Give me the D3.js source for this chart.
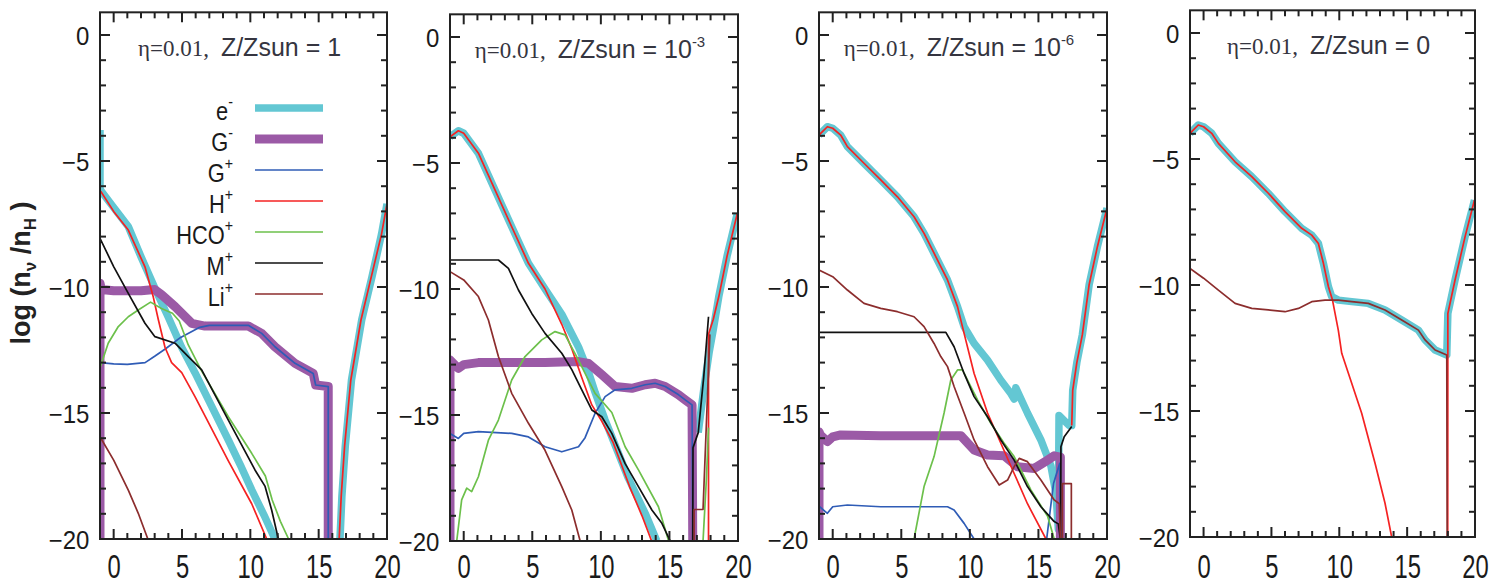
<!DOCTYPE html>
<html>
<head>
<meta charset="utf-8">
<script src="https://cdnjs.cloudflare.com/ajax/libs/d3/7.8.5/d3.min.js"></script>
<style>
    body { margin: 0; background: #fff; }
    svg { display: block; }
</style>
</head>
<body>
<div id="chart-area"></div>
<script>
// ---- data: log(n_v / n_H) vs x, one array per species and panel (null = gap)

// Z/Zsun = 1
var p1_e = [[-1,-3.77],[-1,-6.1],[-0.9,-6.2],[0,-6.85],[1.07,-7.6],[2,-8.8],[3.02,-10.05],[4,-11.2],[4.98,-12.4],[5.95,-13.4],[7,-14.55],[8.39,-16.07],[9.3,-17.1],[10.1,-18.05],[11,-19.05],[11.8,-20], null,
    [16.56,-20],[16.7,-18.3],[16.95,-16.3],[17.4,-13.7],[18.15,-11.3],[18.9,-9.6],[19.6,-7.9],[20,-6.7]];
var p1_Gm = [[-1,-20],[-1,-9.85],[-0.9,-10.1],[0,-10.15],[1,-10.15],[2,-10.15],[3,-10.1],[3.5,-10.3],[4.49,-10.78],[5.71,-11.44],[6.68,-11.55],[8,-11.55],[9.85,-11.55],[10.83,-11.84],[11.8,-12.37],[13.27,-13.03],[14.6,-13.43],[14.78,-13.89],[15.7,-13.95],[15.7,-20]];
var p1_Gp = [[-1,-13.0],[0,-13.05],[1,-13.07],[2.3,-13.0],[3,-12.75],[3.8,-12.45],[4.9,-12.0],[6.3,-11.6],[7,-11.52],[9.85,-11.52],[10.83,-11.84],[11.8,-12.37],[13.27,-13.03],[14.6,-13.43],[14.78,-13.89],[15.7,-13.95],[15.7,-20]];
var p1_H = [[-0.95,-6.2],[0,-7.0],[1.07,-7.74],[2.29,-9.2],[2.9,-10.4],[3.27,-11.3],[3.76,-12.4],[4.24,-13.0],[4.98,-13.4],[5.95,-14.35],[8.39,-16.9],[10.1,-18.6],[11.2,-20], null,
    [16.5,-20],[16.65,-18.3],[16.9,-16.3],[17.35,-13.7],[18.1,-11.3],[18.85,-9.6],[19.6,-7.9],[20,-6.7]];
var p1_HCO = [[-1,-13.2],[-0.4,-12.23],[0.34,-11.57],[1.07,-11.18],[1.8,-10.91],[2.7,-10.6],[3.5,-10.85],[4.3,-11.04],[4.8,-11.35],[5.46,-12.3],[6.4,-13.3],[8.39,-15.15],[10.1,-16.6],[11.1,-17.5],[11.6,-18.45],[12.2,-19.3],[12.8,-20]];
var p1_M = [[-1,-20],[-1,-8.07],[0,-9.19],[1.07,-10.25],[2.29,-11.44],[3.02,-11.97],[4.49,-12.23],[5.46,-12.76],[6.44,-13.29],[8.39,-15.28],[10.34,-17.26],[11.07,-17.9],[11.56,-18.85],[12.05,-20]];
var p1_Li = [[-1,-15.94],[0,-16.87],[1.07,-18.06],[1.8,-18.98],[2.5,-20]];

// Z/Zsun = 1e-3
var p2_e = [[-1,-3.96],[-0.39,-3.72],[0,-3.82],[1.07,-4.61],[2.28,-6.07],[3.5,-7.53],[4.72,-8.98],[5.93,-10.0],[7.15,-11.0],[8.37,-12.3],[9.1,-13.3],[9.58,-14.1],[10.31,-15.2],[12,-17.5],[13.23,-18.9],[14.08,-20], null,
    [17.1,-15.7],[17.5,-14.0],[17.9,-12.5],[18.2,-11.6],[18.6,-10.3],[19.2,-8.7],[19.95,-7.0]];
var p2_Gm = [[-1,-20],[-1,-12.82],[-0.9,-12.88],[-0.39,-13.15],[0,-13.0],[1.07,-12.92],[3.5,-12.92],[5.93,-12.92],[8.37,-12.88],[9.1,-12.95],[10.07,-13.4],[11.04,-13.87],[12.26,-13.94],[13.23,-13.8],[13.96,-13.74],[14.69,-13.87],[15.67,-14.2],[16.15,-14.4],[16.65,-14.6],[16.7,-20]];
var p2_Gp = [[-1,-15.73],[-0.39,-15.93],[0,-15.73],[1.07,-15.66],[3.5,-15.73],[4.72,-15.87],[5.93,-16.26],[7.15,-16.46],[8.37,-16.26],[8.85,-15.9],[9.58,-14.93],[10.31,-14.27],[11.04,-14.0],[12.26,-13.94],[13.23,-13.8],[13.96,-13.74],[14.69,-13.87],[15.67,-14.2],[16.15,-14.4],[16.65,-14.6],[16.7,-20]];
var p2_H = [[-1,-3.96],[-0.39,-3.72],[0,-3.82],[1.07,-4.61],[2.28,-6.07],[3.5,-7.53],[4.72,-8.98],[5.93,-10.0],[7.15,-11.4],[7.9,-12.4],[8.6,-13.5],[9.34,-14.6],[10.07,-15.25],[10.9,-16.1],[12.1,-17.85],[13.0,-19.0],[13.7,-20], null,
    [17.85,-20],[17.85,-11.8],[18.2,-11.2],[18.6,-10.3],[19.2,-8.7],[19.95,-7.0]];
var p2_HCO = [[-0.51,-20],[-0.15,-18.37],[0.22,-17.9],[0.58,-18.04],[1.07,-17.45],[1.8,-16.0],[2.53,-15.2],[3.5,-13.61],[4.47,-12.68],[5.69,-12.02],[6.66,-11.69],[7.39,-11.82],[8.37,-12.82],[9.58,-14.14],[10.8,-14.9],[11.77,-16.26],[12.75,-17.19],[14.2,-18.64],[14.94,-20], null,
    [17.45,-20],[17.7,-17.5],[17.85,-15.5]];
var p2_M = [[-1,-20],[-1,-8.85],[2.53,-8.85],[3.26,-9.18],[3.99,-10.04],[4.96,-10.97],[5.93,-11.76],[7.15,-12.55],[7.88,-13.2],[8.61,-14.0],[9.34,-14.8],[10.07,-15.07],[10.8,-15.73],[11.77,-16.93],[12.75,-17.85],[13.72,-18.77],[14.45,-19.3],[15.06,-20], null,
    [16.7,-20],[16.72,-16.3],[17.1,-15.7],[17.5,-13.5],[17.85,-11.1]];
var p2_Li = [[-1,-9.31],[0,-9.64],[1.07,-10.3],[1.8,-11.23],[2.53,-12.68],[3.5,-14.14],[4.72,-15.33],[5.93,-16.4],[7.15,-17.84],[7.88,-18.77],[8.49,-20], null,
    [16.8,-20],[16.8,-18.75],[17.45,-18.75],[17.95,-11.8]];

// Z/Zsun = 1e-6
var p3_e = [[-1,-3.97],[-0.39,-3.64],[0,-3.7],[0.58,-3.97],[1.07,-4.43],[2.28,-5.09],[3.5,-5.75],[4.72,-6.42],[5.93,-7.21],[6.66,-7.87],[7.39,-8.66],[8.37,-9.72],[9.1,-10.78],[9.58,-11.57],[10.31,-12.24],[11.29,-12.9],[12.26,-13.7],[12.99,-14.23],[13.23,-14.45],[13.35,-14.0],[14.2,-15.0],[15.18,-16.07],[15.91,-17.1],[16.28,-18.2],[16.45,-19.6],[16.5,-15.1],[17.25,-15.5],[17.43,-15.5],[17.5,-14.1],[17.8,-13.0],[18.2,-11.9],[18.7,-9.9],[19.3,-8.4],[20,-6.87]];
var p3_Gm = [[-1,-20],[-1,-15.74],[-0.9,-15.87],[-0.39,-16.13],[0,-15.95],[0.58,-15.87],[3.5,-15.9],[5.93,-15.9],[9.34,-15.9],[10.31,-16.47],[11.29,-16.67],[12.5,-16.7],[13.48,-17.13],[14.7,-17.2],[15.67,-16.87],[16.15,-16.7],[16.6,-16.75],[16.6,-20]];
var p3_Gp = [[-1,-18.7],[-0.39,-18.98],[0,-18.72],[1.07,-18.65],[3.5,-18.72],[5.93,-18.72],[8.37,-18.72],[8.85,-18.85],[9.58,-19.38],[10.31,-20], null,
    [15.6,-20],[16.1,-17.8],[16.55,-17.0],[16.6,-20]];
var p3_H = [[-1,-3.97],[-0.39,-3.64],[0,-3.7],[0.58,-3.97],[1.07,-4.43],[2.28,-5.09],[3.5,-5.75],[4.72,-6.42],[5.93,-7.21],[6.66,-7.87],[7.39,-8.66],[8.37,-9.72],[9.1,-10.78],[9.58,-11.84],[10.31,-13.43],[11.29,-15.0],[12.26,-16.2],[13.23,-17.4],[14.2,-18.6],[15.55,-20], null,
    [17.43,-15.5],[17.5,-14.1],[17.8,-13.0],[18.2,-11.9],[18.7,-9.9],[19.3,-8.4],[20,-6.87]];
var p3_HCO = [[5.93,-20],[6.66,-17.92],[7.39,-16.73],[8.12,-15.0],[8.61,-13.69],[9.1,-13.29],[9.46,-13.29],[10.07,-13.95],[10.56,-14.48],[11.53,-15.41],[12.5,-16.2],[13.23,-16.73],[14.45,-18.05],[15.67,-19.1],[16.15,-20]];
var p3_M = [[-1,-20],[-1,-11.8],[8.25,-11.8],[8.85,-12.37],[9.58,-13.43],[10.31,-14.35],[11.29,-15.15],[12.26,-16.07],[13.23,-16.87],[14.2,-17.92],[15.18,-18.72],[16.15,-19.31],[16.45,-19.4],[16.6,-20], null,
    [16.62,-20],[16.64,-16.34],[16.88,-15.94],[17.43,-15.54]];
var p3_Li = [[-1,-9.33],[0,-9.59],[1.07,-10.12],[2.28,-10.65],[3.5,-10.85],[4.72,-10.98],[5.93,-11.18],[6.66,-11.57],[7.39,-12.24],[7.88,-12.76],[8.37,-13.16],[8.85,-13.95],[9.58,-15.0],[10.31,-16.07],[11.29,-17.13],[12.14,-17.86],[12.75,-17.66],[13.23,-17.13],[13.6,-16.8],[14.2,-16.93],[15.18,-17.66],[16.15,-18.45],[16.52,-18.6],[16.6,-20], null,
    [16.75,-20],[16.75,-17.8],[17.4,-17.8],[17.4,-20]];

// Z/Zsun = 0
var p4_e = [[-1,-3.98],[-0.39,-3.65],[0,-3.72],[0.6,-3.98],[1.09,-4.38],[2.32,-5.11],[3.55,-5.7],[4.77,-6.36],[6.0,-7.09],[7.23,-7.75],[7.97,-8.02],[8.46,-8.35],[8.83,-9.14],[9.2,-10.07],[9.44,-10.46],[9.93,-10.6],[10.92,-10.66],[12.14,-10.73],[13.37,-10.99],[14.6,-11.39],[15.83,-11.79],[16.32,-12.18],[17.06,-12.58],[17.92,-12.78],[18.0,-11.13],[18.53,-9.8],[19.27,-8.08],[19.96,-6.63]];
var p4_H = [[-1,-3.98],[-0.39,-3.65],[0,-3.72],[0.6,-3.98],[1.09,-4.38],[2.32,-5.11],[3.55,-5.7],[4.77,-6.36],[6.0,-7.09],[7.23,-7.75],[7.97,-8.02],[8.46,-8.35],[8.83,-9.14],[9.2,-10.07],[9.5,-10.6],[9.93,-11.8],[10.18,-12.71],[10.67,-13.5],[11.65,-15.09],[12.64,-17.08],[13.37,-18.66],[13.86,-20], null,
    [17.99,-20],[18.0,-11.13],[18.53,-9.8],[19.27,-8.08],[19.96,-6.63]];
var p4_Li = [[-1,-9.34],[0,-9.73],[1.09,-10.2],[2.32,-10.73],[3.55,-10.93],[4.77,-10.99],[6.0,-11.06],[6.99,-10.93],[7.97,-10.66],[8.95,-10.6],[9.93,-10.6],[10.92,-10.66],[12.14,-10.73],[13.37,-10.99],[14.6,-11.39],[15.83,-11.79],[16.32,-12.18],[17.06,-12.58],[17.92,-12.78],[17.95,-20]];

// labels / ticks
var speciesBase = ["e", "G", "G", "H", "HCO", "M", "Li"];
var speciesSign = ["-", "-", "+", "+", "+", "+", "+"];
var zBase = ["1", "10", "10", "0"];
var zExp = [null, "-3", "-6", null];
var xTicks = [0, 5, 10, 15, 20];
var yTicks = [0, -5, -10, -15, -20];
var xMinor = [-1, 1, 2, 3, 4, 6, 7, 8, 9, 11, 12, 13, 14, 16, 17, 18, 19];
var yMinor = [-1, -2, -3, -4, -6, -7, -8, -9, -11, -12, -13, -14, -16, -17, -18, -19];

var panelData = [
    [p1_e, p1_Gm, p1_Gp, p1_H, p1_HCO, p1_M, p1_Li],
    [p2_e, p2_Gm, p2_Gp, p2_H, p2_HCO, p2_M, p2_Li],
    [p3_e, p3_Gm, p3_Gp, p3_H, p3_HCO, p3_M, p3_Li],
    [p4_e, null, null, p4_H, null, null, p4_Li]
];

// ---- styles / layout
var speciesColor = ["#63c7d3", "#9b5aa6", "#2f5cb6", "#f52222", "#6cc04b", "#111111", "#8c2d2d"];
var speciesWidth = [7.5, 9, 1.7, 1.7, 1.7, 1.7, 1.7];

var panelLeft = [100, 450, 819, 1190];
var panelRight = [387, 738, 1107, 1475];
var panelY0 = [35, 37, 35, 33];   // pixel of y = 0
var unitY = 25.2;

var svg = d3.select("#chart-area")
    .append("svg")
    .attr("width", 1490)
    .attr("height", 584)
    .style("font-family", "'Liberation Sans', Arial, sans-serif");

// Y axis title
var yTitle = svg.append("text")
    .attr("transform", "translate(30,273) rotate(-90)")
    .attr("text-anchor", "middle")
    .attr("font-size", "27px")
    .attr("font-weight", "bold")
    .attr("fill", "#222");
yTitle.append("tspan").text("log (n");
yTitle.append("tspan").attr("font-size", "17px").attr("dy", 6).text("ν");
yTitle.append("tspan").attr("dy", -6).text(" /n");
yTitle.append("tspan").attr("font-size", "17px").attr("dy", 6).text("H");
yTitle.append("tspan").attr("dy", -6).text(" )");

panelData.forEach(function (series, p) {
    var w = panelRight[p] - panelLeft[p];
    var top = panelY0[p] - 0.9 * unitY;
    var bottom = panelY0[p] + 20 * unitY;
    var h = bottom - top;

    var x = d3.scaleLinear().domain([-1, 20]).range([0, w]);
    var y = d3.scaleLinear().domain([-20, 0.9]).range([h, 0]);

    var g = svg.append("g")
        .attr("transform", "translate(" + panelLeft[p] + "," + top + ")");

    g.append("clipPath").attr("id", "clip" + p)
        .append("rect").attr("width", w).attr("height", h);

    // curves
    var line = d3.line()
        .defined(function (d) { return d !== null; })
        .x(function (d) { return x(d[0]); })
        .y(function (d) { return y(d[1]); });

    var plot = g.append("g").attr("clip-path", "url(#clip" + p + ")");
    series.forEach(function (s, i) {
        if (!s) return;
        plot.append("path")
            .datum(s)
            .attr("d", line)
            .attr("fill", "none")
            .attr("stroke", speciesColor[i])
            .attr("stroke-width", speciesWidth[i])
            .attr("stroke-linejoin", "round");
    });

    // tick labels from the axes
    var xb = g.append("g").attr("transform", "translate(0," + h + ")")
        .call(d3.axisBottom(x).tickValues(xTicks).tickSize(0).tickPadding(0));
    var yl = g.append("g")
        .call(d3.axisLeft(y).tickValues(yTicks).tickSize(0).tickPadding(0));
    g.selectAll(".domain").remove();

    xb.selectAll("text")
        .attr("y", 578 - bottom).attr("dy", null)
        .attr("font-size", "34px")
        .attr("fill", "#1a1a1a")
        .attr("transform", "scale(0.7,1)");
    yl.selectAll("text")
        .attr("x", -11).attr("dy", "0.36em")
        .attr("font-size", "25px")
        .attr("fill", "#1a1a1a")
        .attr("transform", "scale(0.96,1)");

    // inward ticks on all four sides
    var ticks = g.append("g").attr("stroke", "#222").attr("stroke-width", 2);
    [[xTicks, 10], [xMinor, 6]].forEach(function (set) {
        var len = set[1];
        ticks.selectAll(null).data(set[0]).enter().append("line")
            .attr("x1", function (d) { return x(d); })
            .attr("x2", function (d) { return x(d); })
            .attr("y1", h).attr("y2", h - len);
        ticks.selectAll(null).data(set[0]).enter().append("line")
            .attr("x1", function (d) { return x(d); })
            .attr("x2", function (d) { return x(d); })
            .attr("y1", 0).attr("y2", len);
    });
    [[yTicks, 10], [yMinor, 6]].forEach(function (set) {
        var len = set[1];
        ticks.selectAll(null).data(set[0]).enter().append("line")
            .attr("y1", function (d) { return y(d); })
            .attr("y2", function (d) { return y(d); })
            .attr("x1", 0).attr("x2", len);
        ticks.selectAll(null).data(set[0]).enter().append("line")
            .attr("y1", function (d) { return y(d); })
            .attr("y2", function (d) { return y(d); })
            .attr("x1", w).attr("x2", w - len);
    });

    // frame
    g.append("rect")
        .attr("width", w).attr("height", h)
        .attr("fill", "none")
        .attr("stroke", "#222")
        .attr("stroke-width", 2);

    // annotation
    var note = g.append("text")
        .attr("x", w / 2 - 4)
        .attr("y", 21 + 0.9 * unitY)
        .attr("text-anchor", "middle")
        .attr("font-size", "25px")
        .attr("fill", "#353540");
    note.append("tspan").attr("font-size", "23px")
        .attr("font-family", "'Liberation Serif', 'Times New Roman', serif").text("η=0.01,");
    note.append("tspan").attr("dx", 12).text("Z/Zsun = " + zBase[p]);
    if (zExp[p]) {
        note.append("tspan").attr("font-size", "15px").attr("dy", -11).text(zExp[p]);
    }
});

// legend in first panel
var legend = svg.append("g");
speciesBase.forEach(function (name, i) {
    var ly = 108 + i * 31;
    var row = legend.append("g").attr("transform", "translate(0," + ly + ")");
    row.append("line")
        .attr("x1", 255).attr("x2", 323)
        .attr("stroke", speciesColor[i])
        .attr("stroke-width", speciesWidth[i]);
    var t = row.append("text")
        .attr("transform", "translate(233,12) scale(0.84,1)")
        .attr("text-anchor", "end")
        .attr("font-size", "26px")
        .attr("fill", "#1a1a1a");
    t.append("tspan").text(name);
    t.append("tspan").attr("font-size", "17px").attr("dy", -13).text(speciesSign[i]);
});
</script>
</body>
</html>
